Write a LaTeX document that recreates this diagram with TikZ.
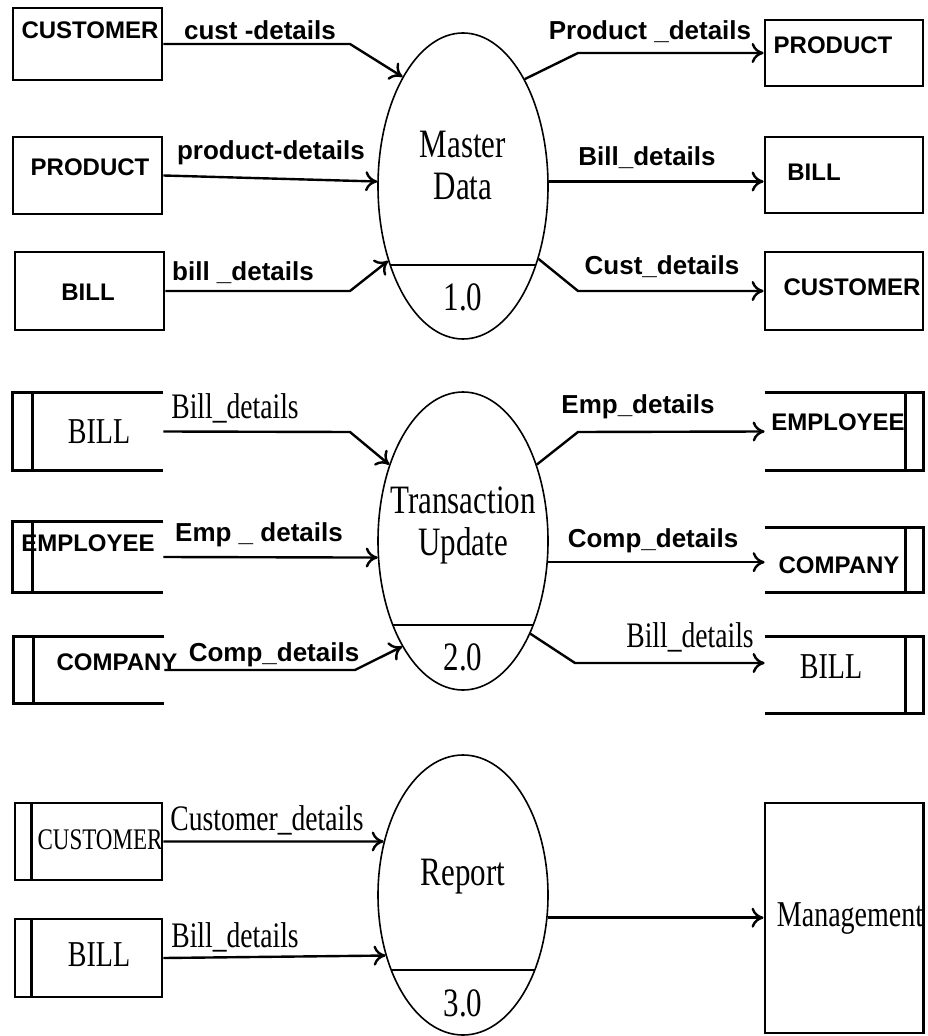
\documentclass[tikz,border=0pt]{standalone}
\usepackage{fontspec}
\setmainfont{Liberation Serif}
\setsansfont{Liberation Sans}
\usetikzlibrary{shapes.geometric,arrows.meta}

% open data stores: bar on the left or on the right
\newcommand{\lstore}[1]{\draw[wall] (#1.north east) -- (#1.north west) -- (#1.south west) -- (#1.south east);
  \draw[wall] ([xshift=10pt]#1.north west) -- ([xshift=10pt]#1.south west);}
\newcommand{\rstore}[1]{\draw[wall] (#1.north west) -- (#1.north east) -- (#1.south east) -- (#1.south west);
  \draw[wall] ([xshift=-9pt]#1.north east) -- ([xshift=-9pt]#1.south east);}
% the serif texts are drawn a little taller than wide
\newcommand{\tall}[1]{\scalebox{1}[1.3]{#1}}

\begin{document}
\begin{tikzpicture}[x=0.5pt, y=-0.5pt,
    wall/.style={line width=1.4pt},
    ent/.style={draw, line width=1.4pt, inner sep=0pt, minimum width=74.5pt},
    store/.style={inner sep=0pt, minimum width=75pt},
    proc/.style={ellipse, draw, line width=0.8pt, inner sep=0pt, minimum width=85pt},
    split/.style={path picture={\draw[line width=1.1pt]
        ([yshift=#1]path picture bounding box.south west) --
        ([yshift=#1]path picture bounding box.south east);}},
    flow/.style={line width=1.2pt, -{To[length=6pt,width=10pt]}},
    etxt/.style={font=\sffamily\bfseries\fontsize{12}{14}\selectfont, inner sep=0pt},
    lbl/.style={font=\sffamily\bfseries\fontsize{13}{15}\selectfont, inner sep=0pt},
    rlbl/.style={font=\fontsize{13.8}{16}\selectfont, inner sep=0pt},
    ptxt/.style={font=\fontsize{15.5}{21}\selectfont, align=center, inner sep=0pt}]
  \useasboundingbox (0,0) rectangle (927,1036);

  % processes
  \node[proc, minimum height=153pt, split=37pt] (md) at (463,186) {};
  \node[proc, minimum height=149pt, split=32.5pt] (tu) at (463,541) {};
  \node[proc, minimum height=140pt, split=32.5pt] (rp) at (463,895) {};
  \node[ptxt] (mdt) at (463,166) {\tall{Master}\\\tall{Data}};
  \node[ptxt] (mdn) at (463,297) {\tall{1.0}};
  \node[ptxt] (tut) at (463,525) {\tall{Transaction}\\\tall{Update}};
  \node[ptxt] (tun) at (463,657) {\tall{2.0}};
  \node[ptxt] (rpt) at (463,877) {\tall{Report}};
  \node[ptxt] (rpn) at (463,1003) {\tall{3.0}};

  % level 1.0 : entities
  \node[ent, minimum height=36pt] (lc) at (87.5,44) {};
  \node[ent, minimum height=38.5pt] (lp) at (87.5,175.5) {};
  \node[ent, minimum height=39pt] (lb) at (89.5,291) {};
  \node[ent, minimum width=79pt, minimum height=33pt] (rprod) at (844,53) {};
  \node[ent, minimum width=79pt, minimum height=38pt] (rbill) at (844,175) {};
  \node[ent, minimum width=79pt, minimum height=39pt] (rcust) at (844,291) {};
  \node[etxt] (lct) at (90,30) {CUSTOMER};
  \node[etxt] (lpt) at (90,167) {PRODUCT};
  \node[etxt] (lbt) at (88,292) {BILL};
  \node[etxt] (rprodt) at (833,45) {PRODUCT};
  \node[etxt] (rbillt) at (814,172) {BILL};
  \node[etxt] (rcustt) at (852,287) {CUSTOMER};

  % level 2.0 : stores
  \node[store, minimum height=38.5pt] (sb) at (88,431.5) {};
  \node[store, minimum height=35pt] (se) at (88,557) {};
  \node[store, minimum height=33pt] (sc) at (89,670) {};
  \node[store, minimum width=79pt, minimum height=38.5pt] (re) at (844,431.5) {};
  \node[store, minimum width=79pt, minimum height=32pt] (rco) at (844,560) {};
  \node[store, minimum width=79pt, minimum height=38pt] (rbl) at (844,675) {};
  \lstore{sb} \lstore{se} \lstore{sc}
  \rstore{re} \rstore{rco} \rstore{rbl}
  \node[ptxt, font=\fontsize{14}{16}\selectfont] (sbt) at (99,432) {\tall{BILL}};
  \node[etxt] (set) at (88,543) {EMPLOYEE};
  \node[etxt] (sct) at (117,662) {COMPANY};
  \node[etxt] (ret) at (838,422) {EMPLOYEE};
  \node[etxt] (rcot) at (839,565) {COMPANY};
  \node[ptxt, font=\fontsize{14}{16}\selectfont] (rblt) at (831,667) {\tall{BILL}};

  % level 3.0
  \node[ent, minimum width=73.5pt, minimum height=38.5pt] (cs) at (88.5,841.5) {};
  \node[ent, minimum width=73.5pt, minimum height=39pt] (bs) at (88.5,958) {};
  \draw[wall] ([xshift=9pt]cs.north west) -- ([xshift=9pt]cs.south west);
  \draw[wall] ([xshift=9pt]bs.north west) -- ([xshift=9pt]bs.south west);
  \node[ptxt, font=\fontsize{11.5}{14}\selectfont] (cst) at (100,840) {\tall{CUSTOMER}};
  \node[ptxt, font=\fontsize{14}{16}\selectfont] (bst) at (99,955) {\tall{BILL}};
  \node[ent, minimum width=79pt, minimum height=115pt,
    font=\fontsize{14}{16}\selectfont] (mg) at (844,918) {\hspace*{6pt}\tall{Management}};

  % bends
  \coordinate (k1) at (350,44);
  \coordinate (k2) at (350,291);
  \coordinate (k3) at (578,53);
  \coordinate (k4) at (578,291);
  \coordinate (k5) at (350,432);
  \coordinate (k6) at (355,670);
  \coordinate (k7) at (578,432);
  \coordinate (k8) at (575,663);

  % flows
  \draw[flow] (lc.east) -- (k1) -- (md.119);
  \draw[flow] (lp.east) -- (md.177);
  \draw[flow] (lb.east) -- (k2) -- (md.225);
  \draw[flow] (md.60) -- (k3) -- (rprod.west);
  \draw[flow] (md.3) -- (md.3 -| rbill.west);
  \draw[flow] (md.-44) -- (k4) -- (rcust.west);

  \draw[flow] (sb.east) -- (k5) -- (tu.134);
  \draw[flow] (se.east) -- (tu.191);
  \draw[flow] (sc.east) -- (k6) -- (tu.240);
  \draw[flow] (tu.46) -- (k7) -- (re.west);
  \draw[flow] (tu.-14) -- (tu.-14 -| rco.west);
  \draw[flow] (tu.-54) -- (k8) -- (k8 -| rbl.west);

  \draw[flow] (cs.east) -- (rp.146);
  \draw[flow] (bs.east) -- (rp.218);
  \draw[flow] (rp.-15) -- (rp.-15 -| mg.west);

  % flow labels
  \node[lbl] (l1) at (260,30) {cust -details};
  \node[lbl] (l2) at (271,153) {product-details};
  \node[lbl] (l3) at (243,273) {bill \_details};
  \node[lbl] (l4) at (650,32) {Product \_details};
  \node[lbl] (l5) at (647,158) {Bill\_details};
  \node[lbl] (l6) at (662,267) {Cust\_details};
  \node[rlbl] (l7) at (235,408) {\tall{Bill\_details}};
  \node[lbl] (l8) at (259,535) {Emp \_ details};
  \node[lbl] (l9) at (274,655) {Comp\_details};
  \node[lbl] (l10) at (638,407) {Emp\_details};
  \node[lbl] (l11) at (653,541) {Comp\_details};
  \node[rlbl] (l12) at (690,637) {\tall{Bill\_details}};
  \node[rlbl] (l13) at (267,820) {\tall{Customer\_details}};
  \node[rlbl] (l14) at (235,937) {\tall{Bill\_details}};
\end{tikzpicture}
\end{document}
